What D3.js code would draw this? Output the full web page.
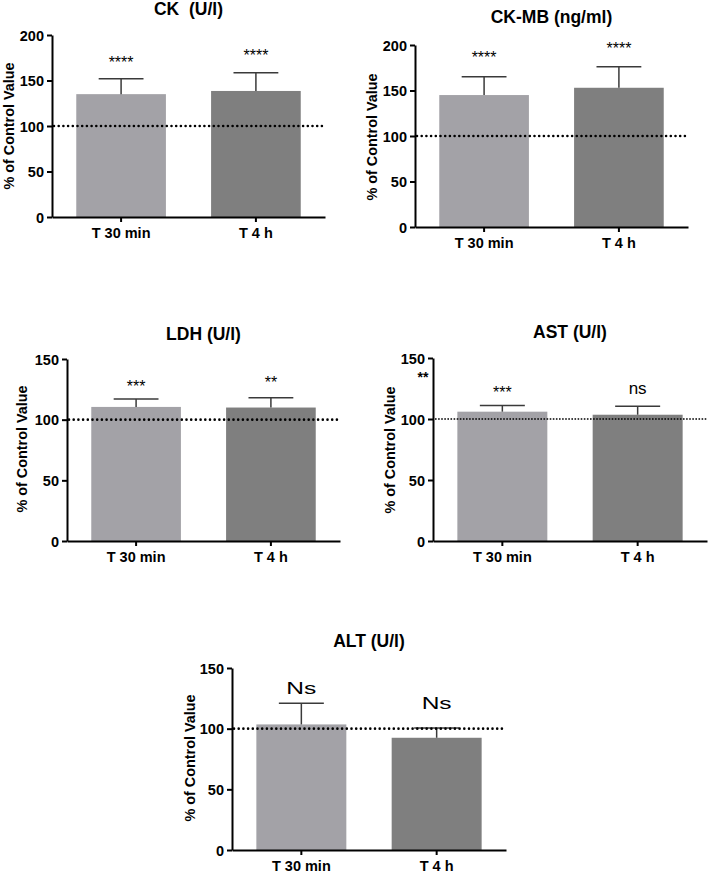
<!DOCTYPE html>
<html><head><meta charset="utf-8">
<script src="https://cdn.jsdelivr.net/npm/d3@7"></script>
<style>
body{margin:0;background:#fff}
svg{display:block}
text{font-family:"Liberation Sans",Arial,Helvetica,sans-serif;fill:#000}
</style>
</head><body>
<svg id="c" width="709" height="874"></svg>
<script>
// ---- data ----
const categories = ["T 30 min", "T 4 h"];
const titles = ["CK  (U/l)", "CK-MB (ng/ml)", "LDH (U/l)", "AST (U/l)", "ALT (U/l)"];
const meanValues = [[135, 138.5], [145, 153], [110.5, 110], [106, 103.5], [103.5, 92.5]];
const upperErrors = [[152, 158.5], [165, 176], [117, 118], [111, 110.5], [121, 100.5]];
const significance = [["****", "****"], ["****", "****"], ["***", "**"], ["***", "ns"], ["Ns", "Ns"]];
const yMaxValues = [200, 200, 150, 150, 150];
const yTickValues = [[0, 50, 100, 150, 200], [0, 50, 100, 150, 200], [0, 50, 100, 150], [0, 50, 100, 150], [0, 50, 100, 150]];
const controlValue = 100;
const yAxisTitle = "% of Control Value";
const strayMark = "**";
const barColors = ["#a3a2a7", "#7f7f7f"];

// ---- layout (positions / styles only) ----
const layout = [
  {x0: 52,  x1: 325, top: 35,  bottom: 217, titleY: 15,  yl: [9, 126],   sigOff: [11, 11.5], dots: "thick"},
  {x0: 415, x1: 688, top: 45,  bottom: 227, titleY: 23,  yl: [372, 137], sigOff: [13.5, 12.5], dots: "thick"},
  {x0: 67,  x1: 340, top: 359, bottom: 541, titleY: 340, yl: [22, 449],  sigOff: [7.5, 9.5], dots: "thick"},
  {x0: 433, x1: 707, top: 358, bottom: 541, titleY: 338, yl: [390, 450], sigOff: [7.5, 12], dots: "thin"},
  {x0: 232, x1: 506, top: 668, bottom: 850, titleY: 647, yl: [190, 758], sigOff: [9, 19], dots: "thick"}
];

const svg = d3.select("#c");

layout.forEach((L, i) => {
  const g = svg.append("g");
  const x = d3.scaleBand().domain(categories).range([L.x0, L.x1]).paddingInner(0.335).paddingOuter(0.18);
  const y = d3.scaleLinear().domain([0, yMaxValues[i]]).range([L.bottom, L.top]);
  const data = categories.map((c, k) => ({c, k, m: meanValues[i][k], e: upperErrors[i][k], s: significance[i][k]}));

  // bars
  g.selectAll("rect.bar").data(data).enter().append("rect")
    .attr("x", d => x(d.c)).attr("width", x.bandwidth())
    .attr("y", d => y(d.m)).attr("height", d => y(0) - y(d.m))
    .attr("fill", d => barColors[d.k]);

  // error bars (upper)
  const capW = x.bandwidth() * 0.5;
  const eg = g.selectAll("g.err").data(data).enter().append("g");
  eg.append("line")
    .attr("x1", d => x(d.c) + x.bandwidth() / 2).attr("x2", d => x(d.c) + x.bandwidth() / 2)
    .attr("y1", d => y(d.m)).attr("y2", d => y(d.e))
    .attr("stroke", "#3a3a3a").attr("stroke-width", 1.5);
  eg.append("line")
    .attr("x1", d => x(d.c) + x.bandwidth() / 2 - capW / 2).attr("x2", d => x(d.c) + x.bandwidth() / 2 + capW / 2)
    .attr("y1", d => y(d.e)).attr("y2", d => y(d.e))
    .attr("stroke", "#3a3a3a").attr("stroke-width", 1.5);

  // control reference line
  const ref = g.append("line")
    .attr("x1", L.x0 + 2).attr("x2", L.x1)
    .attr("y1", y(controlValue)).attr("y2", y(controlValue))
    .attr("stroke", "#000");
  if (L.dots === "thick") {
    ref.attr("stroke-width", 2.6).attr("stroke-dasharray", "0 4.7").attr("stroke-linecap", "round");
  } else {
    ref.attr("stroke-width", 1.6).attr("stroke-dasharray", "1.6 1.5");
  }

  // axes
  const yAxis = d3.axisLeft(y).tickValues(yTickValues[i]).tickSize(5).tickSizeOuter(0).tickPadding(3);
  const ya = g.append("g").attr("transform", `translate(${L.x0},0)`).call(yAxis);
  const xAxis = d3.axisBottom(x).tickSize(5).tickSizeOuter(0).tickPadding(6);
  const xa = g.append("g").attr("transform", `translate(0,${L.bottom})`).call(xAxis);
  [ya, xa].forEach(a => {
    a.select(".domain").attr("stroke", "#000").attr("stroke-width", 2);
    a.selectAll(".tick line").attr("stroke", "#000").attr("stroke-width", 2);
    a.selectAll(".tick text").attr("fill", "#000")
      .style("font-family", '"Liberation Sans",Arial,sans-serif')
      .style("font-weight", "bold").style("font-size", "14.5px");
  });
  ya.selectAll(".tick text").attr("dy", "0.36em");

  // title
  g.append("text").attr("x", (L.x0 + L.x1) / 2).attr("y", L.titleY)
    .attr("text-anchor", "middle").style("font-weight", "bold").style("font-size", "17.5px")
    .style("white-space", "pre").attr("xml:space", "preserve")
    .text(titles[i]);

  // y-axis title
  g.append("text").attr("transform", `translate(${L.yl[0]},${L.yl[1]}) rotate(-90)`)
    .attr("text-anchor", "middle").attr("dy", "0.36em")
    .style("font-weight", "bold").style("font-size", "14.4px")
    .text(yAxisTitle);

  // significance labels
  g.selectAll("text.sig").data(data).enter().append("text")
    .attr("x", d => x(d.c) + x.bandwidth() / 2)
    .attr("y", d => y(d.e) - L.sigOff[d.k])
    .attr("text-anchor", "middle")
    .style("font-size", d => d.s.indexOf("*") >= 0 ? "16px" : "17px")
    .each(function (d) {
      if (d.s === "Ns") d3.select(this).attr("textLength", 30).attr("lengthAdjust", "spacingAndGlyphs");
    })
    .text(d => d.s);

  if (i === 3) {
    g.append("text").attr("x", L.x0 - 10).attr("y", L.top + 24)
      .attr("text-anchor", "middle").style("font-weight", "bold").style("font-size", "14px")
      .text(strayMark);
  }
});
</script>
</body></html>
